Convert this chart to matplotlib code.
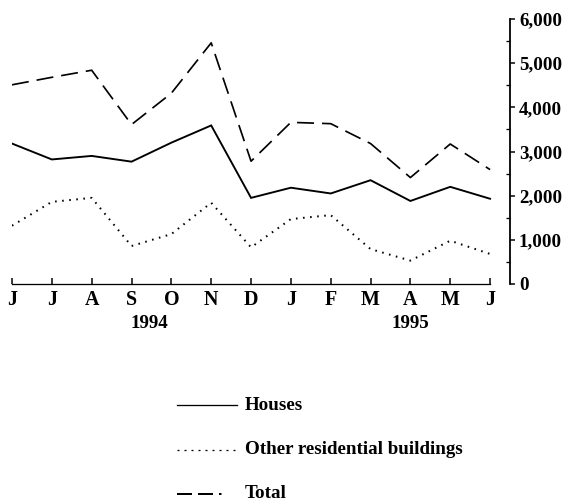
import matplotlib
matplotlib.use("Agg")
import matplotlib.pyplot as plt
from matplotlib.lines import Line2D
from matplotlib.ticker import MultipleLocator, FuncFormatter

plt.rcParams['font.family'] = ['Liberation Serif', 'DejaVu Serif']
plt.rcParams['font.weight'] = 'bold'
plt.rcParams['lines.scale_dashes'] = False

months = ['J', 'J', 'A', 'S', 'O', 'N', 'D', 'J', 'F', 'M', 'A', 'M', 'J']
years = ['1994', '1995']
year_pos = [3.45, 10.0]
houses = [3180, 2820, 2900, 2770, 3200, 3590, 1950, 2180, 2050, 2350, 1880, 2200, 1930]
other = [1320, 1860, 1950, 860, 1130, 1840, 830, 1470, 1560, 790, 530, 980, 680]
total = [4510, 4680, 4840, 3610, 4320, 5460, 2780, 3660, 3630, 3180, 2410, 3170, 2590]
labels = ['Houses', 'Other residential buildings', 'Total']

fig = plt.figure(figsize=(8, 7), dpi=72)
ax = fig.add_axes([12/576, 1 - 284/504, (510 - 12)/576, (284 - 19)/504])

x = list(range(len(months)))
ax.plot(x, houses, color='black', lw=1.9, solid_joinstyle='miter')
ax.plot(x, other, color='black', lw=2.0, dashes=(1.6, 5.5), dash_capstyle='butt')
ax.plot(x, total, color='black', lw=1.7, dashes=(17, 8))

ax.set_xlim(0, 12.5)
ax.set_ylim(0, 6000)
for s in ['left', 'top']:
    ax.spines[s].set_visible(False)
ax.spines['bottom'].set_bounds(0, 12)
ax.spines['bottom'].set_linewidth(1.3)
ax.spines['right'].set_linewidth(1.8)

ax.set_xticks(x)
ax.set_xticklabels(months, fontsize=20, fontweight='bold')
ax.tick_params(axis='x', direction='in', length=6, width=1.5, pad=6)

ax.yaxis.tick_right()
ax.yaxis.set_major_locator(MultipleLocator(1000))
ax.yaxis.set_minor_locator(MultipleLocator(500))
ax.yaxis.set_major_formatter(FuncFormatter(lambda v, p: f"{int(v):,}"))
ax.tick_params(axis='y', which='major', direction='out', length=5, width=1.5, pad=4, labelsize=19)
ax.tick_params(axis='y', which='minor', direction='in', length=4, width=1.3)
for t in ax.get_yticklabels():
    t.set_fontweight('bold')

for yr, p in zip(years, year_pos):
    ax.text(p, -0.15, yr, transform=ax.get_xaxis_transform(), ha='center', va='center',
            fontsize=19, fontweight='bold')

# legend
W, H = 576, 504
styles = [dict(lw=1.3), dict(lw=1.3, dashes=(2, 5)), dict(lw=2.0, dashes=(15, 6, 15, 6, 2.5, 100))]
ys = [405, 450, 494]
for lab, st, yy in zip(labels, styles, ys):
    fig.add_artist(Line2D([177/W, 237/W], [1 - yy/H, 1 - yy/H], color='black',
                          transform=fig.transFigure, **st))
    fig.text(245/W, 1 - yy/H, lab, ha='left', va='center', fontsize=19, fontweight='bold')

fig.savefig('out.png', dpi=72)
